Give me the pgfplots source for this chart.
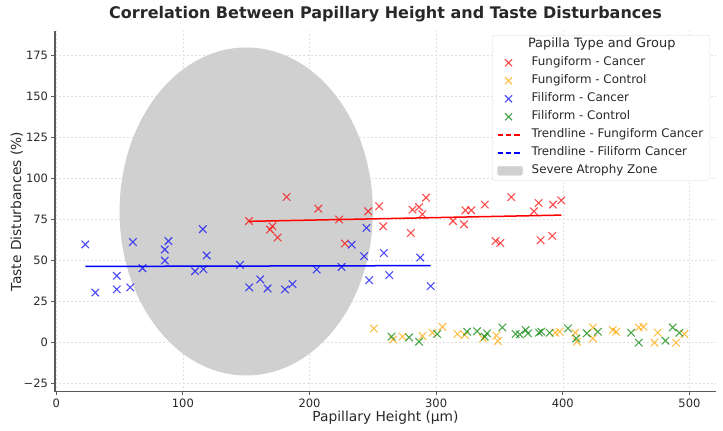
\documentclass[border=0pt]{standalone}
\usepackage{fontspec}
\setmainfont{DejaVu Sans}
\usepackage{pgfplots}
\pgfplotsset{compat=1.18}
\definecolor{cRed}{RGB}{255,0,0}
\definecolor{cOrange}{RGB}{255,165,0}
\definecolor{cBlue}{RGB}{0,0,255}
\definecolor{cGreen}{RGB}{0,128,0}
\definecolor{zoneGray}{RGB}{208,208,208}
\definecolor{txt}{RGB}{40,40,40}
\definecolor{spine}{RGB}{90,90,90}
\begin{document}
\begin{tikzpicture}
\path[use as bounding box] (0,0) rectangle (723pt,431pt);
\begin{axis}[
  at={(55pt,39.1pt)}, anchor=south west,
  scale only axis, width=661pt, height=360.8pt,
  xmin=-1, xmax=521, ymin=-30, ymax=190,
  axis lines*=left,
  axis line style={draw=spine, line width=1.1pt, -},
  tick align=outside,
  major tick length=3.5pt,
  tick style={draw=spine, line width=0.8pt},
  xtick={0,100,200,300,400,500},
  xticklabels={0,100,200,300,400,500},
  ytick={-25,0,25,50,75,100,125,150,175},
  yticklabels={−25,0,25,50,75,100,125,150,175},
  ticklabel style={font=\fontsize{11.5}{13}\selectfont, text=txt},
  grid=major,
  grid style={draw=black!12, line width=0.5pt, dash pattern=on 2pt off 2pt},
  title={Correlation Between Papillary Height and Taste Disturbances},
  title style={at={(axis description cs:0.5,1)}, anchor=base, yshift=7pt,
    font=\fontsize{16}{19}\selectfont\bfseries, text=txt},
  xlabel={Papillary Height (µm)},
  xlabel style={at={(axis description cs:0.5,0)}, anchor=base, yshift=-30pt,
    font=\fontsize{13.8}{16}\selectfont, text=txt},
  ylabel={Taste Disturbances (\%)},
  ylabel style={at={(axis description cs:-0.0514,0.5)}, anchor=base, rotate=0,
    font=\fontsize{13.8}{16}\selectfont, text=txt},
  legend cell align=left,
  legend style={at={(axis description cs:0.990,0.989)}, anchor=north east,
    draw=black!15, fill=white, rounded corners=2pt,
    font=\fontsize{11.9}{13}\selectfont, text=txt,
    inner xsep=4pt, inner ysep=2pt,
    nodes={text height=9pt, text depth=3pt, inner ysep=1.5pt},
    row sep=3pt,
    /tikz/every odd column/.append style={column sep=7pt}},
]
\fill[zoneGray] (axis cs:150,80) ellipse [x radius=100, y radius=100];

\addlegendimage{empty legend}
\addlegendentry{\makebox[140pt][c]{\fontsize{12.9}{15}\selectfont Papilla Type and Group}}

% Fungiform - Cancer
\addplot[only marks, mark=x, mark size=5.3pt, draw=cRed, line width=1.1pt, opacity=0.7,
  legend image code/.code={\draw[cRed, opacity=0.7, line width=1.1pt] plot[mark=x, mark size=5pt] coordinates {(11pt,0pt)};}]
coordinates {
(152.2,74.2)(181.9,88.8)(170.6,71.0)(168.8,69.0)(174.8,64.1)(206.9,81.7)
(223.4,75.1)(227.9,60.5)(246.3,80.1)(255.0,83.2)(258.2,71.0)(280.0,66.9)
(281.3,81.1)(286.5,82.7)(289.1,78.3)(292.0,88.4)(313.3,74.2)(322.0,72.2)
(323.1,80.7)(327.8,80.7)(338.4,84.2)(347.0,62.0)(350.7,60.8)(359.3,88.8)
(377.2,80.1)(380.9,85.2)(382.5,62.5)(392.2,84.2)(391.7,65.1)(398.8,86.8)
};
\addlegendentry{Fungiform - Cancer}

% Fungiform - Control
\addplot[only marks, mark=x, mark size=5.3pt, draw=cOrange, line width=1.1pt, opacity=0.7,
  legend image code/.code={\draw[cOrange, opacity=0.7, line width=1.1pt] plot[mark=x, mark size=5pt] coordinates {(11pt,0pt)};}]
coordinates {
(250.8,8.7)(266.0,2.0)(273.4,3.7)(289.2,4.1)(297.1,6.1)(305.0,9.7)
(316.8,5.3)(322.6,4.7)(337.0,2.7)(347.5,4.4)(348.8,1.0)(394.1,6.1)
(397.5,6.7)(409.9,6.1)(411.2,0.6)(423.8,9.3)(423.8,2.6)(439.5,7.7)
(442.2,6.7)(460.0,9.3)(463.7,9.7)(472.4,0.0)(475.0,6.1)(489.5,0.0)
(496.1,5.3)
};
\addlegendentry{Fungiform - Control}

% Filiform - Cancer
\addplot[only marks, mark=x, mark size=5.3pt, draw=cBlue, line width=1.1pt, opacity=0.7,
  legend image code/.code={\draw[cBlue, opacity=0.7, line width=1.1pt] plot[mark=x, mark size=5pt] coordinates {(11pt,0pt)};}]
coordinates {
(22.9,59.9)(30.8,30.6)(47.8,40.8)(47.8,32.5)(58.4,33.7)(60.5,61.4)
(68.1,45.4)(85.7,56.8)(85.7,50.1)(88.6,62.0)(109.6,43.6)(115.7,69.2)
(116.2,44.8)(118.8,53.2)(145.1,47.4)(152.4,33.7)(161.1,38.6)(166.9,33.1)
(180.6,32.5)(186.6,35.7)(205.6,44.6)(225.3,46.2)(233.4,59.8)(245.0,70.0)
(243.1,52.7)(247.1,38.1)(258.7,54.7)(262.9,41.2)(287.5,51.9)(295.7,34.5)
};
\addlegendentry{Filiform - Cancer}

% Filiform - Control
\addplot[only marks, mark=x, mark size=5.3pt, draw=cGreen, line width=1.1pt, opacity=0.7,
  legend image code/.code={\draw[cGreen, opacity=0.7, line width=1.1pt] plot[mark=x, mark size=5pt] coordinates {(11pt,0pt)};}]
coordinates {
(264.7,3.7)(278.6,3.2)(286.5,0.6)(300.7,5.3)(324.4,6.7)(332.3,7.0)
(338.3,3.7)(340.2,5.7)(352.3,9.3)(362.8,5.3)(366.0,5.1)(370.7,7.7)
(372.5,5.7)(381.2,6.1)(383.0,6.7)(389.6,6.1)(404.1,8.7)(410.7,2.6)
(419.0,5.7)(427.7,6.7)(454.0,6.1)(460.0,0.0)(481.1,1.2)(486.8,9.3)
(492.1,6.1)
};
\addlegendentry{Filiform - Control}

% Trendlines
\addplot[cRed, line width=1.5pt, forget plot] coordinates {(152.2,74.0)(398.8,77.8)};
\addplot[cBlue, line width=1.5pt, forget plot] coordinates {(22.9,46.5)(295.7,47.0)};

\addlegendimage{legend image code/.code={\draw[cRed, line width=1.5pt, dash pattern=on 5.5pt off 2.75pt] (0pt,0pt) -- (22pt,0pt);}}
\addlegendentry{Trendline - Fungiform Cancer}
\addlegendimage{legend image code/.code={\draw[cBlue, line width=1.5pt, dash pattern=on 5.5pt off 2.75pt] (0pt,0pt) -- (22pt,0pt);}}
\addlegendentry{Trendline - Filiform Cancer}
\addlegendimage{legend image code/.code={\fill[zoneGray] (0pt,-4.5pt) rectangle (25pt,4.5pt);}}
\addlegendentry{Severe Atrophy Zone}
\end{axis}
\end{tikzpicture}
\end{document}
